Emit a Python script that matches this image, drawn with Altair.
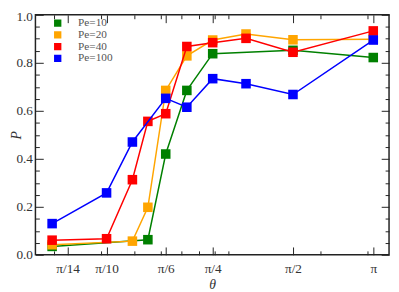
import math
import altair as alt
import pandas as pd

PI = math.pi
FONT = "Liberation Serif"

series_names = ["Pe=10", "Pe=20", "Pe=40", "Pe=100"]
series_colors = ["#008000", "#ffa500", "#ff0000", "#0000ff"]

# theta given as pi / divisor
pe10_div = [16, 7, 6, 5, 4, 2, 1]
pe10_p = [0.035, 0.063, 0.420, 0.685, 0.838, 0.852, 0.822]
pe20_div = [16, 8, 7, 6, 5, 4, 3, 2, 1]
pe20_p = [0.042, 0.057, 0.198, 0.685, 0.829, 0.895, 0.920, 0.896, 0.898]
pe40_div = [16, 10, 8, 7, 6, 5, 4, 3, 2, 1]
pe40_p = [0.061, 0.067, 0.313, 0.556, 0.588, 0.868, 0.884, 0.902, 0.844, 0.933]
pe100_div = [16, 10, 8, 6, 5, 4, 3, 2, 1]
pe100_p = [0.130, 0.258, 0.470, 0.652, 0.615, 0.734, 0.713, 0.668, 0.895]

major_div = [14, 10, 6, 4, 2, 1]
major_labels = ["π/14", "π/10", "π/6", "π/4", "π/2", "π"]
x_minor = [0.2, 0.3, 0.4, 0.5, 0.6, 0.7, 0.8, 0.9, 2, 3]
y_major = [0.0, 0.2, 0.4, 0.6, 0.8, 1.0]
y_minor = [0.05, 0.1, 0.15, 0.25, 0.3, 0.35, 0.45, 0.5, 0.55, 0.65, 0.7, 0.75, 0.85, 0.9, 0.95]

all_div = [pe10_div, pe20_div, pe40_div, pe100_div]
all_p = [pe10_p, pe20_p, pe40_p, pe100_p]

rows = []
for name, divs, ps in zip(series_names, all_div, all_p):
    for d, p in zip(divs, ps):
        rows.append({"series": name, "theta": PI / d, "P": p})
df = pd.DataFrame(rows)

x_major = [PI / d for d in major_div]
label_expr = " : ".join(
    f"abs(datum.value - {v:.6f}) < 0.001 ? '{lab}'" for v, lab in zip(x_major, major_labels)
) + " : ''"

W, H = 361, 245

xscale = alt.Scale(type="log", domain=[0.170, 3.60], nice=False)
yscale = alt.Scale(domain=[0, 1], nice=False)

common = dict(grid=False, domain=False, tickColor="#222", tickWidth=1,
              labelFlush=False, labelOverlap=False)


def axis_layer(xaxis, yaxis):
    return alt.Chart(df).mark_point(opacity=0).encode(
        x=alt.X("theta:Q", scale=xscale, axis=xaxis),
        y=alt.Y("P:Q", scale=yscale, axis=yaxis),
    )


ax_main = axis_layer(
    alt.Axis(orient="bottom", values=x_major, labelExpr=label_expr, tickSize=8, offset=-8,
             labelFont=FONT, labelFontSize=13.5, labelColor="#333", labelPadding=7,
             title="θ", titleFont=FONT, titleFontSize=14, titleFontStyle="italic",
             titleFontWeight="normal", titleColor="#333", titlePadding=3, **common),
    alt.Axis(orient="left", values=y_major, format=".1f", tickSize=8, offset=-8,
             labelFont=FONT, labelFontSize=13.5, labelColor="#333", labelPadding=3,
             labelOffset={"condition": {"test": "datum.value == 1", "value": 2}, "value": 0},
             title="P", titleFont=FONT, titleFontSize=14, titleFontStyle="italic",
             titleFontWeight="normal", titleColor="#333", titleX=-23.5, titleY=H / 2,
             titleBaseline="alphabetic", **common),
)
ax_minor = axis_layer(
    alt.Axis(orient="bottom", values=x_minor, labels=False, tickSize=4, offset=-4, title=None, **common),
    alt.Axis(orient="left", values=y_minor, labels=False, tickSize=4, offset=-4, title=None, **common),
)
ax_top = axis_layer(
    alt.Axis(orient="top", values=x_major, labels=False, tickSize=8, offset=-8, title=None, **common),
    alt.Axis(orient="right", values=y_major, labels=False, tickSize=8, offset=-8, title=None, **common),
)
ax_top_minor = axis_layer(
    alt.Axis(orient="top", values=x_minor, labels=False, tickSize=4, offset=-4, title=None, **common),
    alt.Axis(orient="right", values=y_minor, labels=False, tickSize=4, offset=-4, title=None, **common),
)

color_scale = alt.Scale(domain=series_names, range=series_colors)
legend = alt.Legend(title=None, orient="none", legendX=17, legendY=3, symbolType="square",
                    symbolSize=56, symbolStrokeWidth=0, labelFont=FONT, labelFontSize=11.5,
                    labelColor="#555", labelOffset=15, rowPadding=0, clipHeight=11, padding=0)

data_layers = []
for name, col in zip(series_names, series_colors):
    sub = df[df["series"] == name]
    line = alt.Chart(sub).mark_line(strokeWidth=1.5, color=col).encode(
        x=alt.X("theta:Q", scale=xscale, axis=None),
        y=alt.Y("P:Q", scale=yscale, axis=None),
    )
    pts = alt.Chart(sub).mark_point(shape="square", filled=True, size=95, opacity=1).encode(
        x=alt.X("theta:Q", scale=xscale, axis=None),
        y=alt.Y("P:Q", scale=yscale, axis=None),
        color=alt.Color("series:N", scale=color_scale, legend=legend),
    )
    data_layers += [line, pts]

chart = alt.layer(ax_main, ax_minor, ax_top, ax_top_minor, *data_layers).resolve_axis(
    x="independent", y="independent"
).properties(
    width=W, height=H,
    autosize=alt.AutoSizeParams(type="none"),
    padding={"left": 28, "top": 4, "right": 2, "bottom": 35},
).configure_view(stroke="#222", strokeWidth=1.5)

chart.save("out.html", embed_options={"renderer": "svg", "actions": False})
